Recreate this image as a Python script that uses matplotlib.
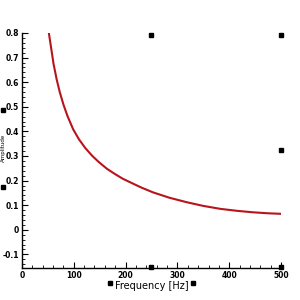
import numpy as np
import matplotlib
matplotlib.use('Agg')
import matplotlib.pyplot as plt
from matplotlib.ticker import MultipleLocator, FuncFormatter

# values
freq = [52, 56, 61, 67, 73, 80, 88, 99, 110, 122, 135, 148, 164, 180, 195, 212, 230,
        253, 285, 318, 350, 383, 415, 446, 475, 498]
amplitude = [0.80, 0.745, 0.675, 0.612, 0.56, 0.51, 0.462, 0.408, 0.368, 0.333, 0.302,
             0.276, 0.248, 0.226, 0.207, 0.190, 0.172, 0.152, 0.130, 0.112, 0.097,
             0.085, 0.077, 0.071, 0.067, 0.065]

x_ticks = [0, 100, 200, 300, 400, 500]
y_ticks = [-0.1, 0, 0.1, 0.2, 0.3, 0.4, 0.5, 0.6, 0.7, 0.8]

fig = plt.figure(figsize=(3, 3), dpi=100)
ax = fig.add_axes([0.073, 0.107, 0.864, 0.783])

ax.plot(freq, amplitude, color='#b8141c', lw=1.5)

ax.set_xlim(0, 500)
ax.set_ylim(-0.155, 0.8)
ax.set_xticks(x_ticks)
ax.set_yticks(y_ticks)
ax.xaxis.set_minor_locator(MultipleLocator(20))
ax.yaxis.set_minor_locator(MultipleLocator(0.02))
ax.yaxis.set_major_formatter(FuncFormatter(lambda v, p: '0' if abs(v) < 1e-9 else f'{v:g}'))

for s in ['top', 'right']:
    ax.spines[s].set_visible(False)
for s in ['left', 'bottom']:
    ax.spines[s].set_linewidth(1.0)

ax.tick_params(which='major', direction='in', length=4, width=0.8, labelsize=5.5, pad=2)
ax.tick_params(which='minor', direction='in', length=2, width=0.6)
for lbl in ax.get_xticklabels() + ax.get_yticklabels():
    lbl.set_fontweight('bold')

ax.set_xlabel('Frequency [Hz]', fontsize=7, labelpad=1)
fig.text(3 / 300, 1 - 148 / 300, 'Amplitude', rotation=90, fontsize=4,
         ha='center', va='center')

# selection handles
handles = [(151, 35), (281, 35), (281, 150), (151, 267), (281, 267),
           (110, 283), (193, 283), (3, 110), (3, 187)]
for hx, hy in handles:
    fig.add_artist(plt.Rectangle(((hx - 2) / 300, 1 - (hy + 2) / 300), 4 / 300, 4 / 300,
                                 transform=fig.transFigure, color='black'))

fig.savefig('out.png', dpi=100)
